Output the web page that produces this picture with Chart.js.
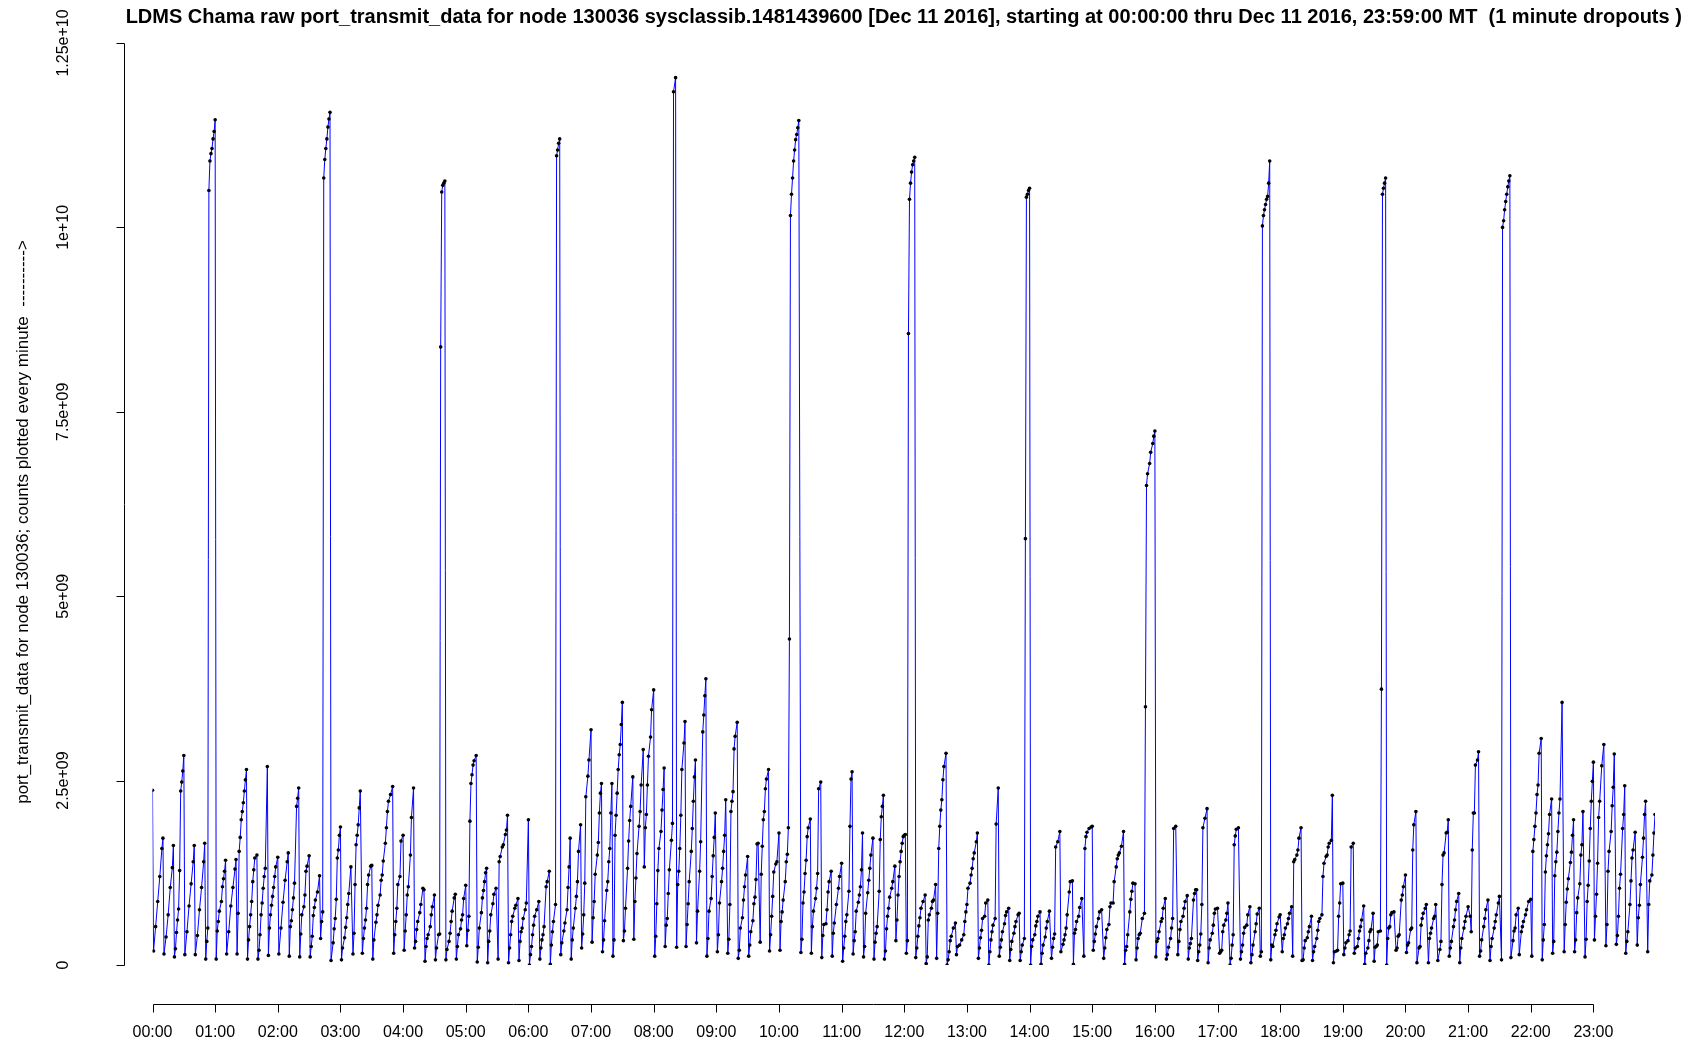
<!DOCTYPE html>
<html>
<head>
<meta charset="utf-8">
<script src="https://cdn.jsdelivr.net/npm/chart.js@4/dist/chart.umd.min.js"></script>
<style>
  html, body { margin: 0; padding: 0; background: #ffffff; }
  #wrap { width: 1689px; height: 1044px; position: relative; }
</style>
</head>
<body>
<div id="wrap"><canvas id="c" width="1689" height="1044"></canvas></div>
<script>
// port_transmit_data samples for node 130036, Dec 11 2016.
// Each entry: [minute of day, counts in units of 1e9]
const hours00to04 = [
  [0,2.37],[1,0.19],[3,0.52],[5,0.86],[7,1.2],[9,1.58],[10,1.72],
  [11,0.15],[13,0.38],[15,0.68],[17,1.05],[19,1.32],[20,1.62],
  [21,0.11],[22,0.22],[23,0.44],[24,0.61],[25,0.76],[26,1.28],[27,2.36],[28,2.48],[29,2.63],[30,2.84],
  [31,0.14],[33,0.45],[35,0.8],[37,1.1],[39,1.4],[40,1.62],
  [41,0.14],[43,0.4],[45,0.75],[47,1.05],[49,1.4],[50,1.65],
  [51,0.08],[52,0.32],[53,0.5],[54,10.5],[55,10.9],[56,11.0],[57,11.07],[58,11.2],[59,11.3],[60,11.46],
  [61,0.08],[62,0.46],[63,0.59],[64,0.73],[66,0.86],[67,1.06],[68,1.17],[69,1.27],[70,1.42],
  [71,0.15],[73,0.45],[75,0.8],[77,1.05],[79,1.3],[80,1.43],
  [81,0.15],[82,0.7],[83,1.54],[84,1.73],[85,1.97],[86,2.08],[87,2.2],[88,2.36],[89,2.51],[90,2.65],
  [91,0.08],[92,0.34],[93,0.52],[94,0.68],[95,0.86],[96,1.13],[97,1.29],[98,1.45],[100,1.49],
  [101,0.08],[102,0.2],[103,0.41],[104,0.68],[105,0.84],[106,1.04],[107,1.2],[108,1.31],[110,2.69],
  [111,0.13],[112,0.5],[113,0.68],[114,0.81],[115,0.93],[116,1.05],[117,1.2],[118,1.33],[120,1.46],
  [121,0.15],[123,0.5],[125,0.85],[127,1.15],[129,1.4],[130,1.52],
  [131,0.12],[132,0.52],[133,0.6],[134,0.75],[135,0.91],[136,1.11],[138,2.15],[139,2.26],[140,2.4],
  [141,0.11],[142,0.42],[143,0.68],[145,0.79],[146,0.95],[147,1.27],[148,1.34],[150,1.48],
  [151,0.11],[152,0.25],[153,0.39],[154,0.67],[155,0.78],[156,0.88],[158,0.99],[160,1.21],
  [161,0.36],[162,0.59],[163,0.72],[164,10.67],[165,10.92],[166,11.07],[167,11.2],[168,11.36],[169,11.47],[170,11.56],
  [171,0.06],[173,0.3],[174,0.49],[175,0.63],[176,0.89],[177,1.45],[178,1.56],[179,1.76],[180,1.87],
  [181,0.07],[182,0.23],[184,0.37],[185,0.51],[186,0.64],[187,0.82],[188,0.97],[190,1.33],
  [192,0.15],[193,0.43],[194,1.09],[195,1.63],[196,1.76],[197,1.9],[198,2.13],[199,2.36],
  [201,0.16],[202,0.36],[203,0.5],[204,0.61],[205,0.77],[206,1.09],[207,1.22],[209,1.34],[210,1.35],
  [211,0.08],[212,0.34],[214,0.58],[215,0.68],[216,0.81],[218,0.95],[219,1.15],[220,1.22],[221,1.41],[223,1.65],[224,1.86],[225,2.08],[226,2.22],[228,2.31],[230,2.42],
  [231,0.16],[232,0.41],[233,0.59],[234,0.77],[235,1.09],[237,1.2],[238,1.68],[240,1.76]
];

const hours04to08 = [
  [241,0.2],[242,0.46],[243,0.68],[244,0.95],[245,1.06],[247,1.49],[248,2.0],[250,2.4],
  [251,0.23],[252,0.32],[253,0.48],[254,0.59],[256,0.71],[257,0.82],[259,1.04],[260,1.02],
  [261,0.05],[262,0.25],[263,0.36],[264,0.41],[266,0.52],[267,0.68],[268,0.79],[270,0.95],
  [271,0.07],[272,0.23],[274,0.41],[275,0.42],[276,8.38],[277,10.48],[278,10.57],[279,10.6],[280,10.63],
  [281,0.07],[282,0.21],[284,0.32],[285,0.43],[286,0.59],[287,0.73],[289,0.91],[290,0.96],
  [291,0.08],[292,0.25],[293,0.41],[295,0.49],[296,0.61],[297,0.68],[298,0.9],[300,1.08],
  [301,0.26],[302,0.47],[303,0.66],[304,1.95],[305,2.46],[306,2.58],[307,2.71],[308,2.77],[310,2.84],
  [311,0.04],[312,0.24],[313,0.5],[315,0.71],[316,0.91],[317,1.01],[318,1.13],[319,1.25],[320,1.31],
  [321,0.03],[322,0.32],[323,0.46],[324,0.68],[326,0.83],[327,0.96],[329,1.04],[331,0.08],[332,1.4],[333,1.47],[335,1.6],[336,1.63],[338,1.77],[339,1.83],[340,2.03],
  [341,0.03],[342,0.23],[343,0.41],[344,0.59],[345,0.66],[347,0.77],[348,0.81],[350,0.9],
  [351,0.06],[352,0.32],[353,0.45],[354,0.5],[355,0.63],[357,0.75],[358,0.84],[360,1.97],
  [361,0.0],[362,0.14],[363,0.25],[364,0.41],[365,0.54],[366,0.66],[368,0.75],[370,0.86],
  [371,0.08],[372,0.23],[373,0.34],[374,0.41],[375,0.52],[377,1.06],[378,1.13],[380,1.27],
  [381,0.01],[382,0.27],[383,0.45],[384,0.59],[386,0.82],[387,10.97],[388,11.05],[389,11.14],[390,11.2],
  [391,0.14],[392,0.3],[394,0.46],[395,0.57],[397,0.75],[398,1.05],[399,1.33],[400,1.72],
  [401,0.08],[402,0.34],[403,0.5],[405,0.77],[406,0.93],[407,1.13],[408,1.54],[410,1.9],
  [411,0.23],[412,0.42],[413,0.68],[414,1.11],[415,2.28],[417,2.56],[418,2.78],[420,3.19],
  [421,0.31],[422,0.64],[423,0.86],[424,1.23],[426,1.49],[427,1.66],[428,2.06],[429,2.33],[430,2.46],
  [431,0.18],[432,0.34],[433,0.6],[435,1.01],[436,1.13],[437,1.4],[438,1.58],[439,2.06],[440,2.46],
  [441,0.12],[442,0.34],[443,1.76],[444,2.03],[445,2.33],[446,2.65],[447,2.85],[448,2.99],[449,3.26],[450,3.56],
  [451,0.33],[452,0.46],[453,0.77],[455,1.31],[456,1.68],[457,1.96],[458,2.15],[460,2.55],
  [461,0.35],[462,0.86],[463,1.18],[464,1.51],[466,1.88],[467,2.08],[468,2.44],[470,2.92],
  [471,1.33],[472,1.86],[473,2.04],[474,2.44],[475,2.83],[477,3.09],[478,3.46],[480,3.73]
];

const hours08to12 = [
  [481,0.12],[482,0.39],[483,0.83],[484,1.28],[485,1.58],[487,1.81],[488,2.1],[489,2.38],[490,2.67],
  [491,0.25],[492,0.54],[493,0.63],[494,0.97],[495,1.29],[497,1.69],[498,1.92],[499,11.84],[501,12.03],
  [502,0.24],[503,1.09],[504,1.27],[505,1.58],[506,2.03],[507,2.65],[509,3.01],[510,3.3],
  [511,0.25],[512,0.55],[513,0.83],[514,1.13],[516,1.54],[517,1.85],[518,2.22],[519,2.55],[520,2.78],
  [521,0.3],[522,0.73],[524,1.27],[525,1.67],[527,3.16],[528,3.39],[529,3.65],[530,3.88],
  [531,0.12],[532,0.36],[533,0.73],[535,0.9],[536,1.2],[537,1.48],[538,1.73],[539,2.06],
  [541,0.18],[542,0.41],[543,0.84],[545,1.13],[546,1.31],[547,1.54],[548,1.76],[549,2.24],
  [551,0.16],[552,0.35],[553,0.82],[554,2.08],[555,2.22],[556,2.35],[557,2.93],[558,3.1],[560,3.29],
  [561,0.09],[562,0.2],[563,0.5],[565,0.64],[566,0.88],[567,1.06],[568,1.22],[570,1.47],
  [571,0.12],[572,0.27],[573,0.45],[575,0.6],[576,0.83],[577,0.92],[578,1.16],[579,1.64],[580,1.65],
  [582,0.31],[583,1.23],[584,1.61],[585,1.97],[586,2.08],[587,2.39],[588,2.52],[590,2.65],
  [591,0.19],[592,0.41],[593,0.66],[594,0.93],[595,1.26],[597,1.37],[598,1.4],[600,1.79],
  [601,0.2],[602,0.59],[603,0.72],[604,0.88],[606,1.13],[607,1.4],[608,1.5],[609,1.86],[610,4.42],[611,10.16],[612,10.45],[613,10.67],[614,10.9],[615,11.05],[616,11.19],[617,11.26],[618,11.35],[619,11.45],
  [621,0.17],[622,0.35],[623,0.84],[624,0.99],[625,1.24],[626,1.42],[627,1.74],[628,1.86],[630,1.98],
  [631,0.16],[632,0.52],[633,0.73],[635,0.9],[636,1.04],[637,1.24],[638,2.39],[640,2.48],
  [641,0.1],[642,0.4],[643,0.55],[645,0.56],[646,0.75],[647,0.99],[648,1.13],[650,1.27],
  [651,0.12],[652,0.43],[653,0.57],[655,0.82],[657,1.04],[658,1.2],[660,1.38],
  [661,0.05],[662,0.23],[663,0.39],[664,0.59],[665,0.68],[667,1.0],[668,1.88],[669,2.52],[670,2.62],
  [671,0.15],[672,0.33],[673,0.45],[674,0.73],[676,0.85],[677,0.95],[678,1.06],[679,1.29],[680,1.79],
  [681,0.11],[682,0.25],[683,0.7],[685,0.98],[686,1.15],[687,1.31],[688,1.49],[690,1.72],
  [691,0.08],[692,0.31],[693,0.43],[694,0.52],[696,1.0],[697,1.7],[698,2.01],[699,2.15],[700,2.3],
  [701,0.08],[702,0.19],[703,0.49],[704,0.66],[705,0.77],[706,0.92],[708,1.04],[709,1.13],[711,1.34],
  [712,0.33],[713,0.61],[714,0.95],[715,1.2],[716,1.4],[717,1.54],[718,1.65],[719,1.74],[720,1.76],[721,1.77]
];

const hours12to16 = [
  [722,0.16],[723,0.33],[724,8.56],[725,10.38],[726,10.6],[727,10.75],[728,10.85],[729,10.9],[730,10.95],
  [731,0.1],[732,0.23],[733,0.39],[734,0.53],[735,0.64],[736,0.77],[738,0.86],[740,0.95],
  [741,0.02],[742,0.11],[743,0.61],[744,0.68],[746,0.77],[747,0.86],[748,0.88],[750,1.09],
  [751,0.09],[752,0.7],[753,1.58],[754,1.88],[755,2.1],[756,2.24],[757,2.51],[758,2.69],[760,2.87],
  [761,0.0],[762,0.07],[763,0.18],[764,0.33],[765,0.39],[767,0.5],[769,0.57],
  [770,0.14],[771,0.25],[773,0.27],[775,0.34],[777,0.41],[778,0.59],[779,0.72],
  [780,0.82],[781,1.04],[783,1.11],[784,1.22],[785,1.31],[786,1.44],[787,1.52],[789,1.67],[790,1.79],
  [791,0.09],[792,0.23],[793,0.37],[794,0.47],[795,0.63],[797,0.66],[798,0.84],[800,0.88],
  [801,0.0],[802,0.18],[803,0.34],[804,0.45],[805,0.54],[807,0.63],[808,1.91],[810,2.4],
  [811,0.12],[812,0.24],[813,0.34],[814,0.45],[816,0.56],[817,0.67],[818,0.72],[820,0.77],
  [821,0.06],[822,0.21],[823,0.32],[825,0.43],[826,0.52],[827,0.59],[829,0.68],[830,0.7],
  [831,0.06],[832,0.18],[833,0.27],[835,0.36],[836,5.78],[837,10.41],[838,10.45],[839,10.5],[840,10.53],
  [841,0.0],[842,0.25],[843,0.34],[845,0.41],[846,0.53],[847,0.59],[848,0.66],[850,0.72],
  [851,0.01],[852,0.16],[853,0.27],[855,0.38],[856,0.5],[857,0.59],[859,0.73],
  [861,0.09],[862,0.24],[863,0.36],[864,0.42],[865,1.6],[867,1.67],[869,1.81],
  [870,0.18],[872,0.28],[873,0.34],[874,0.41],[875,0.5],[876,0.68],[878,0.99],[879,1.13],[881,1.14],
  [882,0.01],[883,0.43],[884,0.48],[885,0.59],[887,0.66],[888,0.78],[890,0.9],
  [892,0.12],[893,1.58],[894,1.74],[895,1.8],[897,1.85],[899,1.87],[900,1.88],
  [901,0.2],[902,0.32],[903,0.42],[904,0.52],[906,0.63],[907,0.72],[909,0.75],
  [911,0.09],[912,0.23],[913,0.37],[914,0.48],[916,0.55],[917,0.79],[918,0.84],[920,0.84],[921,1.13],[923,1.33],[924,1.44],[925,1.49],[926,1.52],[928,1.61],[930,1.81],
  [931,0.01],[932,0.2],[933,0.25],[934,0.41],[936,0.72],[937,0.89],[938,1.0],[939,1.11],[941,1.1],
  [942,0.07],[943,0.23],[944,0.36],[945,0.41],[946,0.43],[948,0.63],[950,0.7],
  [951,3.5],[952,6.5],[953,6.66],[955,6.8],[956,6.95],[958,7.07],[959,7.17],[960,7.24]
];

const hours16to20 = [
  [961,0.11],[962,0.32],[963,0.36],[964,0.45],[966,0.59],[967,0.63],[968,0.77],[970,0.9],
  [971,0.08],[972,0.14],[973,0.24],[975,0.36],[976,0.5],[977,0.63],[978,1.85],[980,1.88],
  [982,0.14],[983,0.32],[984,0.48],[985,0.59],[987,0.66],[988,0.77],[989,0.86],[991,0.94],
  [992,0.08],[993,0.23],[994,0.29],[995,0.36],[997,0.88],[998,0.97],[999,1.02],[1000,1.02],
  [1001,0.06],[1002,0.18],[1003,0.27],[1004,0.42],[1005,0.82],[1006,1.86],[1008,1.99],[1010,2.12],
  [1011,0.03],[1012,0.23],[1013,0.34],[1015,0.43],[1016,0.54],[1017,0.7],[1018,0.76],[1020,0.77],
  [1022,0.16],[1023,0.18],[1024,0.2],[1025,0.45],[1026,0.54],[1028,0.61],[1029,0.7],[1030,0.84],
  [1032,0.0],[1033,0.09],[1034,0.27],[1035,0.41],[1036,1.63],[1037,1.75],[1038,1.84],[1040,1.86],
  [1042,0.08],[1043,0.18],[1044,0.27],[1045,0.43],[1046,0.51],[1048,0.54],[1049,0.68],[1051,0.79],
  [1052,0.03],[1053,0.14],[1054,0.27],[1056,0.45],[1057,0.56],[1058,0.69],[1060,0.77],
  [1061,0.12],[1062,0.18],[1063,10.02],[1064,10.16],[1065,10.24],[1066,10.31],[1067,10.38],[1068,10.42],[1069,10.6],[1070,10.9],
  [1071,0.07],[1072,0.27],[1073,0.25],[1075,0.41],[1076,0.47],[1077,0.56],[1079,0.65],[1080,0.68],
  [1082,0.18],[1083,0.36],[1084,0.41],[1085,0.5],[1087,0.56],[1088,0.63],[1089,0.7],[1091,0.79],
  [1092,0.12],[1093,1.4],[1094,1.43],[1096,1.49],[1097,1.56],[1098,1.72],[1100,1.86],
  [1101,0.06],[1102,0.07],[1103,0.23],[1104,0.33],[1106,0.37],[1107,0.45],[1108,0.52],[1110,0.66],
  [1111,0.06],[1112,0.18],[1113,0.25],[1115,0.36],[1116,0.47],[1117,0.59],[1118,0.63],[1120,0.68],[1121,1.2],[1122,1.38],[1124,1.47],[1125,1.49],[1126,1.6],[1127,1.65],[1129,1.69],[1130,2.3],
  [1131,0.03],[1132,0.18],[1134,0.19],[1135,0.2],[1136,0.66],[1137,0.84],[1138,1.1],[1140,1.11],
  [1141,0.14],[1142,0.23],[1143,0.3],[1145,0.33],[1146,0.41],[1147,0.46],[1148,1.6],[1150,1.65],
  [1151,0.16],[1152,0.23],[1154,0.25],[1155,0.36],[1156,0.46],[1157,0.52],[1158,0.61],[1160,0.8],
  [1161,0.01],[1162,0.16],[1164,0.23],[1165,0.33],[1166,0.45],[1167,0.48],[1169,0.7],
  [1170,0.05],[1171,0.24],[1172,0.25],[1173,0.27],[1174,0.45],[1176,0.46],[1177,3.74],[1178,10.45],[1179,10.53],[1180,10.6],[1181,10.67],
  [1182,0.0],[1183,0.36],[1184,0.5],[1185,0.52],[1186,0.68],[1187,0.71],[1189,0.72],
  [1191,0.2],[1192,0.23],[1193,0.39],[1194,0.41],[1196,0.88],[1197,0.95],[1198,1.06],[1200,1.22]
];

const hours20to24 = [
  [1201,0.17],[1202,0.27],[1203,0.3],[1205,0.48],[1206,0.5],[1207,1.56],[1208,1.9],[1210,2.08],
  [1211,0.03],[1213,0.23],[1214,0.25],[1215,0.54],[1216,0.63],[1217,0.7],[1219,0.77],[1220,0.82],
  [1222,0.03],[1223,0.36],[1224,0.43],[1225,0.5],[1227,0.63],[1228,0.66],[1229,0.82],
  [1231,0.06],[1233,0.21],[1234,0.32],[1235,1.09],[1236,1.49],[1237,1.52],[1239,1.79],[1240,1.8],[1241,1.97],
  [1242,0.12],[1243,0.23],[1244,0.32],[1246,0.52],[1247,0.61],[1248,0.75],[1249,0.86],[1251,0.97],
  [1252,0.03],[1253,0.23],[1254,0.36],[1256,0.5],[1257,0.59],[1258,0.66],[1260,0.79],[1262,0.66],[1263,0.45],[1264,1.56],[1265,2.06],[1266,2.06],[1267,2.71],[1269,2.78],[1270,2.89],
  [1271,0.12],[1272,0.19],[1273,0.34],[1275,0.52],[1276,0.63],[1277,0.75],[1279,0.88],
  [1281,0.06],[1282,0.25],[1283,0.36],[1285,0.5],[1286,0.59],[1287,0.68],[1289,0.84],[1290,0.93],
  [1292,0.07],[1293,10.0],[1294,10.09],[1295,10.24],[1296,10.35],[1297,10.45],[1298,10.55],[1299,10.63],[1300,10.7],
  [1301,0.1],[1303,0.33],[1304,0.46],[1305,0.5],[1306,0.68],[1308,0.77],
  [1309,0.14],[1311,0.45],[1312,0.52],[1313,0.59],[1315,0.68],[1316,0.75],[1318,0.86],[1320,0.89],
  [1321,0.12],[1322,1.54],[1323,1.7],[1324,1.88],[1325,2.06],[1326,2.31],[1327,2.44],[1328,2.87],[1330,3.07],
  [1331,0.07],[1332,0.34],[1333,0.55],[1334,1.26],[1335,1.48],[1336,1.63],[1337,1.78],[1338,2.04],[1340,2.25],
  [1341,0.16],[1342,0.32],[1343,1.21],[1344,1.4],[1345,1.53],[1346,1.81],[1347,2.06],[1348,2.25],[1350,3.56],
  [1352,0.18],[1353,0.55],[1354,0.85],[1355,1.03],[1356,1.17],[1358,1.39],[1359,1.53],[1360,1.76],[1361,1.97],
  [1362,0.18],[1363,0.34],[1364,0.71],[1365,0.91],[1367,1.1],[1368,1.49],[1369,1.63],[1370,2.08],
  [1372,0.11],[1373,0.35],[1374,0.86],[1375,1.08],[1376,1.41],[1377,1.85],[1378,2.22],[1379,2.49],[1380,2.75],
  [1381,0.34],[1382,0.66],[1383,0.96],[1384,1.38],[1385,2.0],[1386,2.22],[1388,2.7],[1390,2.99],
  [1392,0.26],[1393,0.55],[1394,1.27],[1395,1.54],[1397,1.81],[1398,2.16],[1399,2.41],[1400,2.86],
  [1402,0.28],[1403,0.4],[1404,0.66],[1405,1.04],[1406,1.23],[1408,1.85],[1409,2.04],[1410,2.43],
  [1411,0.16],[1412,0.32],[1413,0.45],[1415,0.82],[1416,1.14],[1417,1.45],[1418,1.56],[1420,1.8],
  [1422,0.27],[1423,0.64],[1424,0.81],[1425,1.09],[1427,1.46],[1428,1.72],[1429,2.04],[1430,2.22],
  [1432,0.18],[1433,0.82],[1434,1.14],[1436,1.22],[1437,1.49],[1438,1.79],[1439,2.04]
];

// Axis tick positions and labels
const xTickMinutes = [0,60,120,180,240,300,360,420,480,540,600,660,720,780,840,900,960,1020,1080,1140,1200,1260,1320,1380];
const xTickLabels = ['00:00','01:00','02:00','03:00','04:00','05:00','06:00','07:00','08:00','09:00','10:00','11:00',
                     '12:00','13:00','14:00','15:00','16:00','17:00','18:00','19:00','20:00','21:00','22:00','23:00'];
const yTickValues = [0, 2.5e9, 5e9, 7.5e9, 1e10, 1.25e10];
const yTickLabels = ['0', '2.5e+09', '5e+09', '7.5e+09', '1e+10', '1.25e+10'];

const titleText = 'LDMS Chama raw port_transmit_data for node 130036 sysclassib.1481439600 [Dec 11 2016], starting at 00:00:00 thru Dec 11 2016, 23:59:00 MT  (1 minute dropouts )';
const yAxisTitle = 'port_transmit_data for node 130036; counts plotted every minute  ---------->';

const UNIT = 1e9;
const points = [].concat(hours00to04, hours04to08, hours08to12, hours12to16, hours16to20, hours20to24)
  .map(([m, v]) => ({ x: m, y: v * UNIT }));

const FONT = '"Liberation Sans", Arial, Helvetica, sans-serif';

// R-style detached axes, title and axis caption
const rDecor = {
  id: 'rDecor',
  afterDraw(chart) {
    const { ctx, scales: { x, y } } = chart;
    ctx.save();
    ctx.strokeStyle = '#000';
    ctx.fillStyle = '#000';
    ctx.lineWidth = 1;

    // left axis
    const axX = 124.5;
    const tick = 8;
    ctx.beginPath();
    ctx.moveTo(axX, Math.round(y.getPixelForValue(yTickValues[0])) + 0.5);
    ctx.lineTo(axX, Math.round(y.getPixelForValue(yTickValues[yTickValues.length - 1])) + 0.5);
    yTickValues.forEach(v => {
      const py = Math.round(y.getPixelForValue(v)) + 0.5;
      ctx.moveTo(axX, py);
      ctx.lineTo(axX - tick, py);
    });
    ctx.stroke();
    ctx.font = '16px ' + FONT;
    ctx.textAlign = 'center';
    ctx.textBaseline = 'middle';
    yTickValues.forEach((v, i) => {
      ctx.save();
      ctx.translate(64, y.getPixelForValue(v));
      ctx.rotate(-Math.PI / 2);
      ctx.fillText(yTickLabels[i], 0, 0);
      ctx.restore();
    });

    // bottom axis
    const axY = 1004.5;
    ctx.beginPath();
    ctx.moveTo(Math.round(x.getPixelForValue(xTickMinutes[0])) + 0.5, axY);
    ctx.lineTo(Math.round(x.getPixelForValue(xTickMinutes[xTickMinutes.length - 1])) + 0.5, axY);
    xTickMinutes.forEach(m => {
      const px = Math.round(x.getPixelForValue(m)) + 0.5;
      ctx.moveTo(px, axY);
      ctx.lineTo(px, axY + tick);
    });
    ctx.stroke();
    ctx.textAlign = 'center';
    ctx.textBaseline = 'middle';
    xTickMinutes.forEach((m, i) => {
      ctx.fillText(xTickLabels[i], x.getPixelForValue(m), 1033);
    });

    // y caption
    ctx.save();
    ctx.font = '17px ' + FONT;
    ctx.translate(23, 522);
    ctx.rotate(-Math.PI / 2);
    ctx.fillText(yAxisTitle, 0, 0);
    ctx.restore();

    // title
    ctx.font = 'bold 20px ' + FONT;
    ctx.fillText(titleText, (x.left + x.right) / 2, 17);
    ctx.restore();
  }
};

new Chart(document.getElementById('c'), {
  type: 'line',
  data: {
    datasets: [{
      data: points,
      borderColor: 'rgb(0,0,255)',
      borderWidth: 1,
      tension: 0,
      pointRadius: 1.8,
      pointBorderWidth: 0,
      pointBackgroundColor: '#000',
      pointHoverRadius: 0
    }]
  },
  options: {
    responsive: false,
    animation: false,
    events: [],
    layout: { padding: { left: 152.5, right: 34, top: 43, bottom: 79 } },
    plugins: { legend: { display: false }, tooltip: { enabled: false }, title: { display: false } },
    scales: {
      x: { type: 'linear', min: 0, max: 1439, display: false },
      y: { type: 'linear', min: 0, max: 1.25e10, display: false }
    }
  },
  plugins: [rDecor]
});
</script>
</body>
</html>
